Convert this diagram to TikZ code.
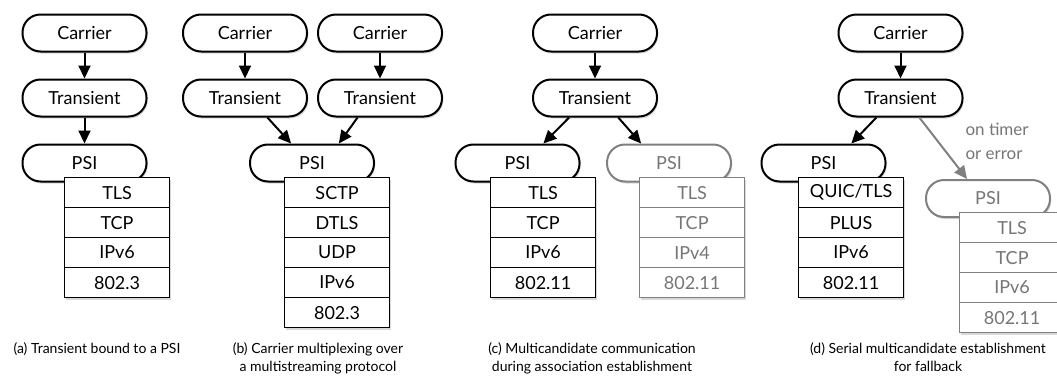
\documentclass[tikz,border=0pt]{standalone}
\usepackage{fontspec}
\setmainfont{Lato}
\usetikzlibrary{arrows.meta,shadows}

\definecolor{faded}{RGB}{128,128,128}
\definecolor{fadedtext}{RGB}{118,118,118}

\tikzset{
  softshadow/.style={drop shadow={opacity=0.3, shadow xshift=1.2pt, shadow yshift=-2pt}},
  pill/.style={draw=black, line width=2pt, fill=white, rounded corners=18pt,
    minimum width=124pt, minimum height=37pt, inner sep=0pt,
    font=\fontsize{18}{20}\selectfont, softshadow},
  layerbox/.style={draw=black, line width=1.2pt, fill=white,
    minimum width=105pt, minimum height=30pt, inner sep=0pt,
    font=\fontsize{18}{20}\selectfont, softshadow},
  ghost/.style={draw=faded, text=fadedtext},
  link/.style={line width=2pt, -{Triangle[length=13pt,width=12pt]}},
  ghostlink/.style={link, draw=faded, -{Triangle[length=13pt,width=12pt,fill=faded]}},
  caption/.style={font=\fontsize{14}{18}\selectfont, align=center, anchor=north, inner sep=0pt}
}

% protocol stack: name prefix, left x, top y, extra style, labels
\newcommand\protostack[5]{%
  \foreach \lab [count=\i] in {#5} {
    \node[layerbox, #4, anchor=north west] (#1\i) at (#2, {#3 + (\i-1)*30}) {\lab};
  }%
}

\begin{document}
\begin{tikzpicture}[x=1pt, y=-1pt]
\useasboundingbox (0,0) rectangle (1057,380);

% (a) transient bound to a PSI
\node[pill] (ca) at (84.5,33) {Carrier};
\node[pill] (ta) at (84.5,98) {Transient};
\node[pill] (pa) at (84.5,163) {PSI};
\protostack{sa}{64}{177}{}{TLS,TCP,IPv6,802.3}
\draw[link] (ca) -- (ta);
\draw[link] (ta) -- (pa);
\node[caption] (capa) at (97,342) {(a) Transient bound to a PSI};

% (b) carrier multiplexing
\node[pill] (cb1) at (245,33) {Carrier};
\node[pill] (cb2) at (380,33) {Carrier};
\node[pill] (tb1) at (245,98) {Transient};
\node[pill] (tb2) at (380,98) {Transient};
\node[pill] (pb) at (312,163) {PSI};
\protostack{sb}{284}{177}{}{SCTP,DTLS,UDP,IPv6,802.3}
\draw[link] (cb1) -- (tb1);
\draw[link] (cb2) -- (tb2);
\draw[link] (tb1.-41) -- (pb.137);
\draw[link] (tb2.-139) -- (pb.36);
\node[caption] (capb) at (318,342) {(b) Carrier multiplexing over\\a multistreaming protocol};

% (c) multicandidate communication
\node[pill] (cc) at (595,33) {Carrier};
\node[pill] (tc) at (595,98) {Transient};
\node[pill] (pc1) at (517.5,163) {PSI};
\node[pill, ghost] (pc2) at (669,163) {PSI};
\protostack{sc}{490}{177}{}{TLS,TCP,IPv6,802.11}
\protostack{sd}{639}{177}{ghost}{TLS,TCP,IPv4,802.11}
\draw[link] (cc) -- (tc);
\draw[link] (tc.-143) -- (pc1.37);
\draw[link] (tc.-40) -- (pc2.145);
\node[caption] (capc) at (592,342) {(c) Multicandidate communication\\during association establishment};

% (d) serial establishment with fallback
\node[pill] (cd) at (900.5,33) {Carrier};
\node[pill] (td) at (900.5,98) {Transient};
\node[pill] (pd1) at (823.5,163) {PSI};
\protostack{se}{798}{177}{}{QUIC/TLS,PLUS,IPv6,802.11}
\node[pill, ghost] (pd2) at (988,198.5) {PSI};
\protostack{sf}{959}{212}{ghost}{TLS,TCP,IPv6,802.11}
\draw[link] (cd) -- (td);
\draw[link] (td.-141) -- (pd1.35);
\draw[ghostlink] (td.-46) -- (pd2.137);
\node[text=fadedtext, font=\fontsize{17}{24}\selectfont, align=left, anchor=west] (why) at (962,141) {on timer\\or error};
\node[caption] (capd) at (928,342) {(d) Serial multicandidate establishment\\for fallback};
\end{tikzpicture}
\end{document}
